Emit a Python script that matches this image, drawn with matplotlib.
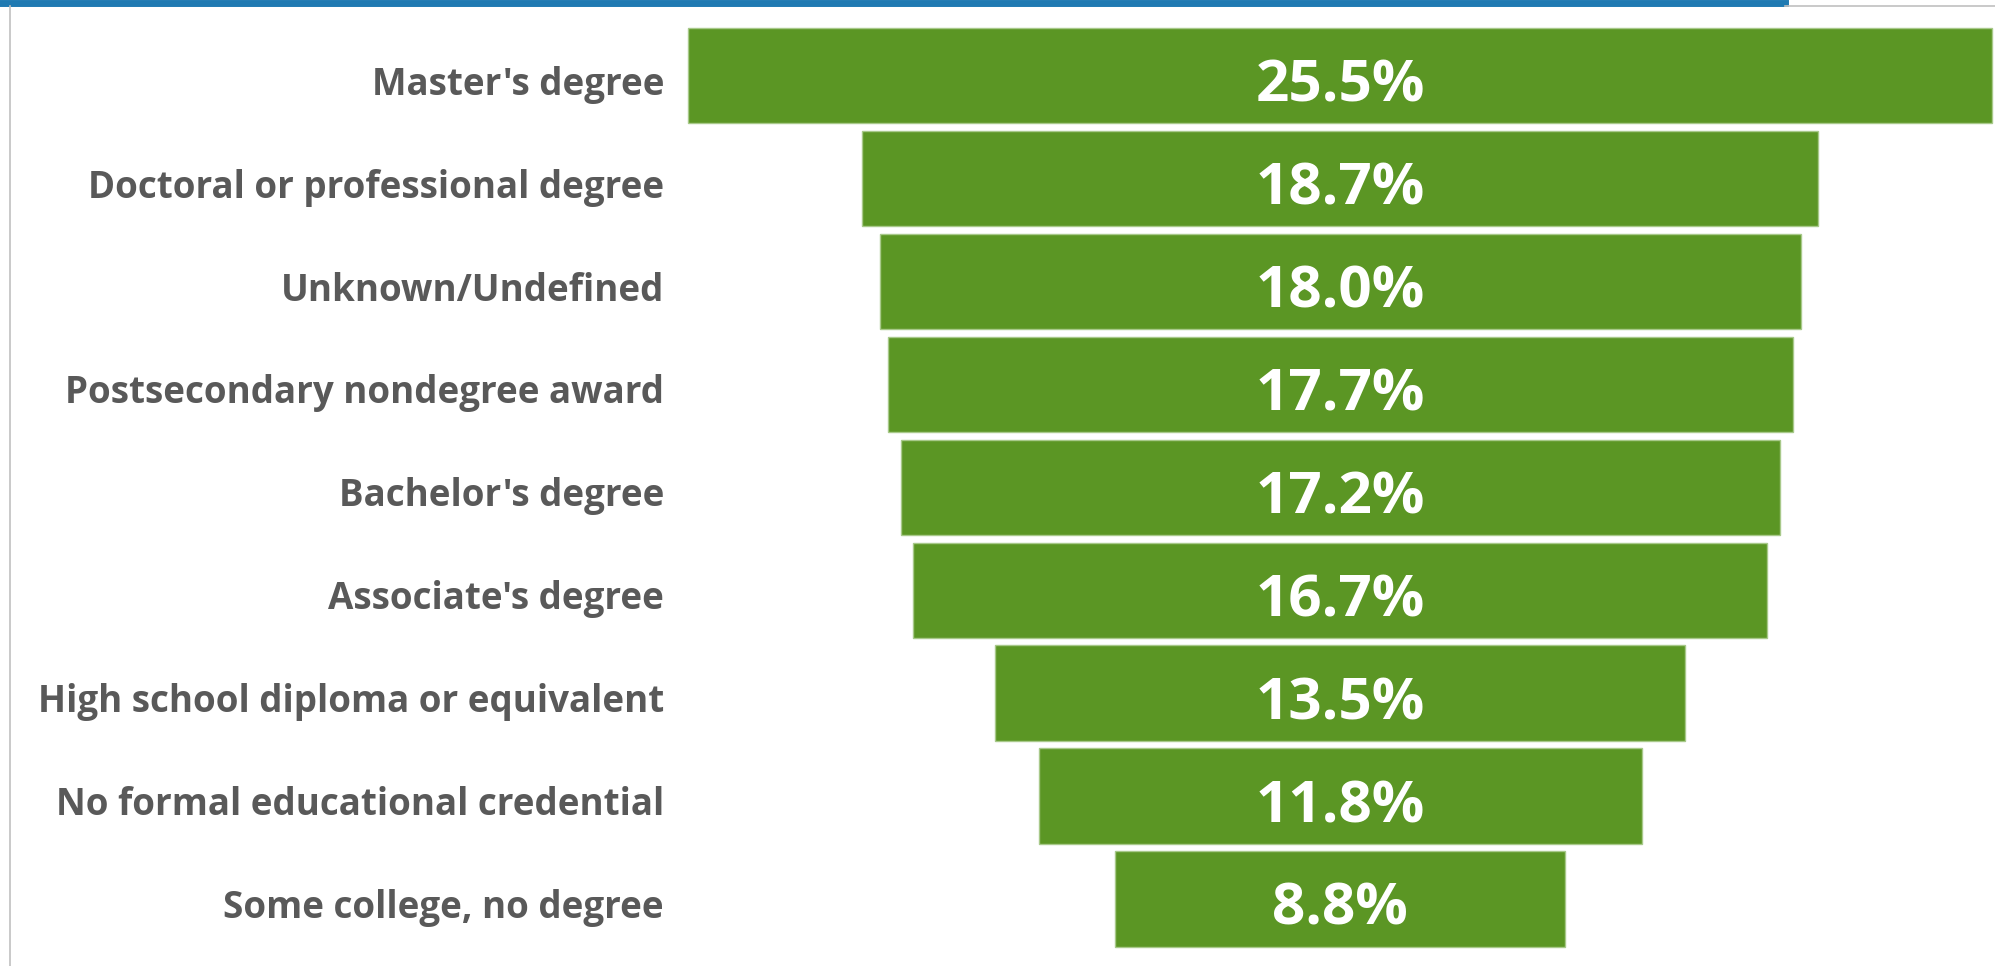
import matplotlib
matplotlib.use("Agg")
import matplotlib.pyplot as plt
from matplotlib.lines import Line2D

categories = ["Master's degree", "Doctoral or professional degree", "Unknown/Undefined",
              "Postsecondary nondegree award", "Bachelor's degree", "Associate's degree",
              "High school diploma or equivalent", "No formal educational credential",
              "Some college, no degree"]
values = [25.5, 18.7, 18.0, 17.7, 17.2, 16.7, 13.5, 11.8, 8.8]
value_labels = ["25.5%", "18.7%", "18.0%", "17.7%", "17.2%", "16.7%", "13.5%", "11.8%", "8.8%"]

W, H = 1995, 966
fig = plt.figure(figsize=(W / 100, H / 100), dpi=100)
ax = fig.add_axes([0, 0, 1, 1])

pxper = 1304 / 25.5
cx = 1340.3
ax.set_xlim(-cx / pxper, (W - cx) / pxper)
y0 = 75.7
pitch = 102.9
ax.set_ylim((H - y0) / pitch, -y0 / pitch)
ax.axis("off")

green = "#5b9624"
ypos = list(range(len(values)))
ax.barh(ypos, values, left=[-v / 2 for v in values], height=0.927,
        color=green, edgecolor="#a8c98a", linewidth=1.0)

label_x = (664 - cx) / pxper
for y, c, v, t in zip(ypos, categories, values, value_labels):
    ax.text(label_x, y + 0.185, c, ha="right", va="baseline", fontsize=26.5,
            family="Open Sans", weight="bold", color="#595959")
    ax.text(0, y + 0.253, t, ha="center", va="baseline", fontsize=42,
            family="Open Sans", weight="bold", color="white")

# top blue band and frame lines
fig.add_artist(Line2D([0, 1785 / W], [1 - 3 / H, 1 - 3 / H], color="#1f7ab2", linewidth=5, transform=fig.transFigure))
fig.add_artist(Line2D([1785 / W, 1], [1 - 6 / H, 1 - 6 / H], color="#c0c0c0", linewidth=1.2, transform=fig.transFigure))
fig.add_artist(Line2D([10 / W, 10 / W], [0, 1 - 6 / H], color="#c0c0c0", linewidth=1.2, transform=fig.transFigure))

fig.savefig("out.png", dpi=100)
